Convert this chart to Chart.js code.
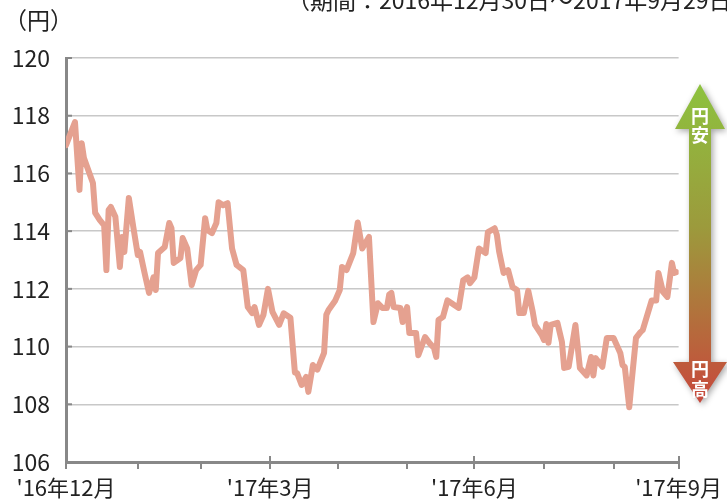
<!DOCTYPE html>
<html><head><meta charset="utf-8">
<script src="https://cdn.jsdelivr.net/npm/chart.js@4/dist/chart.umd.min.js"></script>
<style>
html,body{margin:0;padding:0;background:#fff;}
#wrap{position:relative;width:727px;height:502px;overflow:hidden;background:#fff;}
canvas{position:absolute;left:0;top:0;}
.t{position:absolute;font-family:"Noto Sans CJK JP";color:#222;white-space:nowrap;line-height:1;}
</style></head><body>
<div id="wrap">
<canvas id="c" width="727" height="502"></canvas>
<div class="t" style="left:287px;top:-12px;font-size:23px;">（期間：2016年12月30日～2017年9月29日）</div>
<div class="t" style="left:4px;top:8px;font-size:23px;">（円）</div>
</div>
<script>
// days since 2016-12-30
const days = [0,4,6,7,8,12,13,15,17,18,19,20,22,24,25,26,28,30,32,33,35,37,39,40,41,44,46,47,48,51,52,54,56,58,60,62,63,65,67,68,70,72,74,76,79,81,83,84,86,88,90,92,95,97,100,102,103,105,107,108,110,112,115,116,117,120,122,123,125,128,130,132,135,137,139,141,143,144,145,146,149,150,152,153,156,157,160,162,164,165,166,168,170,173,175,177,179,180,182,184,187,188,191,192,193,195,197,199,201,202,204,206,208,209,212,213,214,215,216,219,221,222,224,227,229,232,234,235,236,239,241,244,247,248,249,251,252,254,256,257,261,263,264,266,268,270,271,272];
// USD/JPY (円)
const usdjpy = [116.98,117.78,115.43,117.05,116.53,115.67,114.63,114.39,114.2,112.65,114.73,114.84,114.5,112.76,113.8,113.28,115.15,114.14,113.17,113.28,112.55,111.86,112.4,111.96,113.24,113.45,114.28,114.1,112.9,113.07,113.76,113.4,112.13,112.65,112.83,114.45,114.04,113.93,114.28,115.0,114.9,114.97,113.4,112.83,112.65,111.37,111.16,111.37,110.75,111.1,112.0,111.2,110.75,111.15,111.0,109.1,109.08,108.67,108.95,108.43,109.36,109.2,109.78,111.1,111.27,111.6,111.96,112.76,112.65,113.24,114.3,113.4,113.8,110.85,111.5,111.34,111.34,111.8,111.86,111.37,111.34,110.85,111.37,110.47,110.47,109.7,110.33,110.12,109.95,109.64,110.92,111.03,111.6,111.44,111.34,112.3,112.4,112.2,112.4,113.4,113.24,113.97,114.1,113.87,113.3,112.55,112.65,112.06,111.96,111.16,111.16,111.93,111.2,110.75,110.4,110.23,110.78,110.13,110.75,110.82,110.16,109.26,109.3,110.75,109.26,109.0,109.64,109.0,109.6,109.3,110.3,110.3,109.78,109.36,109.3,107.9,108.74,110.3,110.5,110.57,111.6,111.6,112.55,111.9,111.72,112.9,112.55,112.58];
// month boundaries (days since 2016-12-30)
const monthTicks = [0,32,60,91,121,152,182,213,244,273];
const tickLabels = {0:"'16年12月",91:"'17年3月",182:"'17年6月",273:"'17年9月"};
const yMin = 106, yMax = 120, yStep = 2;

const points = days.map((d,i)=>({x:d,y:usdjpy[i]}));

const extras = {
  id:'extras',
  afterDraw(chart){
    const ctx = chart.ctx;
    const xs = chart.scales.x, ys = chart.scales.y;
    const bottom = chart.chartArea.bottom, left = chart.chartArea.left;
    ctx.save();
    ctx.strokeStyle = '#888'; ctx.lineWidth = 2;
    Object.keys(tickLabels).forEach(k=>{
      const px = Math.round(xs.getPixelForValue(+k));
      ctx.beginPath(); ctx.moveTo(px, bottom-6); ctx.lineTo(px, bottom); ctx.stroke();
    });
    ys.ticks.forEach(t=>{
      const py = ys.getPixelForValue(t.value);
      ctx.beginPath(); ctx.moveTo(left, py); ctx.lineTo(left+6, py); ctx.stroke();
    });
    ctx.restore();
    // arrow
    const cx = 700, top = 84, bot = 403, headH = 45, headH2 = 41, headW = 25, shaftW = 11;
    ctx.save();
    ctx.shadowColor = 'rgba(0,0,0,0.35)'; ctx.shadowBlur = 6; ctx.shadowOffsetX = 2; ctx.shadowOffsetY = 2;
    const g = ctx.createLinearGradient(0, top, 0, bot);
    g.addColorStop(0, '#8DC23F'); g.addColorStop(0.45, '#9C9A3C'); g.addColorStop(1, '#C8483C');
    ctx.fillStyle = g;
    ctx.beginPath();
    ctx.moveTo(cx, top);
    ctx.lineTo(cx+headW, top+headH); ctx.lineTo(cx+shaftW, top+headH);
    ctx.lineTo(cx+shaftW, bot-headH2); ctx.lineTo(cx+headW+2, bot-headH2);
    ctx.lineTo(cx, bot);
    ctx.lineTo(cx-headW-2, bot-headH2); ctx.lineTo(cx-shaftW, bot-headH2);
    ctx.lineTo(cx-shaftW, top+headH); ctx.lineTo(cx-headW, top+headH);
    ctx.closePath(); ctx.fill();
    ctx.restore();
    ctx.save();
    ctx.fillStyle = '#fff';
    ctx.font = 'bold 18px "Noto Sans CJK JP"';
    ctx.textAlign = 'center'; ctx.textBaseline = 'middle';
    ctx.fillText('円', cx, 116); ctx.fillText('安', cx, 135);
    ctx.fillText('円', cx, 369); ctx.fillText('高', cx, 389);
    ctx.restore();
  }
};

new Chart(document.getElementById('c'), {
  type:'line',
  data:{datasets:[{data:points, borderColor:'#E5A190', borderWidth:6, pointRadius:0, tension:0, borderJoinStyle:'round', borderCapStyle:'round', fill:false}]},
  options:{
    responsive:false, animation:false, devicePixelRatio:1,
    layout:{padding:{top:58, right:46, bottom:0, left:0}},
    plugins:{legend:{display:false}, tooltip:{enabled:false}},
    scales:{
      x:{type:'linear', min:0, max:273,
        afterBuildTicks(s){ s.ticks = monthTicks.map(v=>({value:v})); },
        afterFit(s){ s.height = 40; },
        ticks:{autoSkip:false, maxRotation:0, padding:5, color:'#222', font:{family:'"Noto Sans CJK JP"', size:22},
          callback:(v)=> tickLabels[v] !== undefined ? tickLabels[v] : ''},
        grid:{drawOnChartArea:false, tickLength:7, color:'#888', lineWidth:2},
        border:{color:'#888', width:3}
      },
      y:{min:yMin, max:yMax,
        afterFit(s){ s.width = 66; },
        ticks:{stepSize:yStep, padding:16, color:'#222', font:{family:'"Noto Sans CJK JP"', size:23}},
        grid:{color:'#c8c8c8', lineWidth:1.5, drawTicks:false},
        border:{color:'#888', width:3}
      }
    }
  },
  plugins:[extras]
});
</script>
</body></html>
